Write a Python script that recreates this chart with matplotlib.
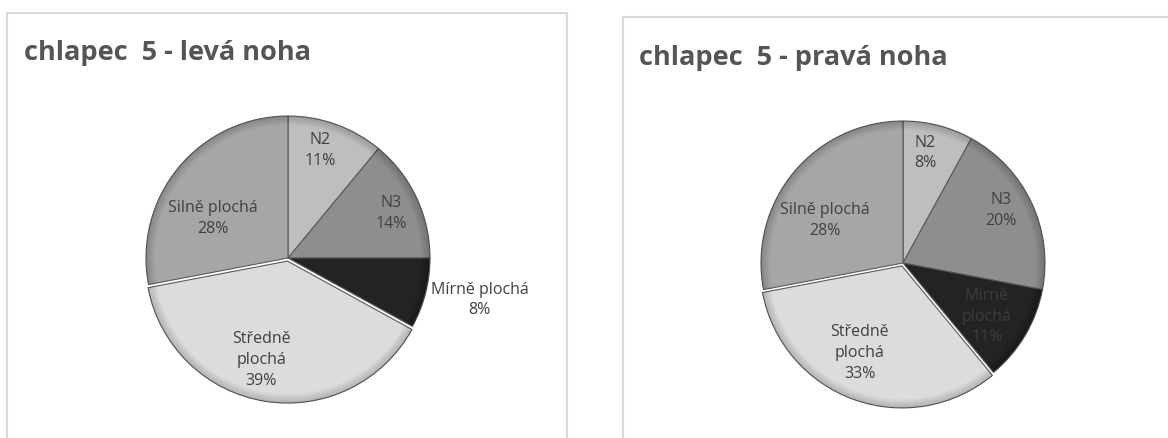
import numpy as np
import matplotlib
matplotlib.use("Agg")
import matplotlib.pyplot as plt
from matplotlib.patches import Rectangle

# Foot-arch categories, clockwise from 12 o'clock
categories = ["N2", "N3", "Mírně plochá", "Středně plochá", "Silně plochá"]
left_values = [11, 14, 8, 39, 28]
right_values = [8, 20, 11, 33, 28]
left_title = "chlapec  5 - levá noha"
right_title = "chlapec  5 - pravá noha"

# Label text, line-broken the way each chart shows it
left_labels = ["N2", "N3", "Mírně plochá", "Středně\nplochá", "Silně plochá"]
right_labels = ["N2", "N3", "Mírně\nplochá", "Středně\nplochá", "Silně plochá"]

slice_colors = ["#bebebe", "#8e8e8e", "#232323", "#dcdcdc", "#a6a6a6"]
label_colors_left = ["#404040", "#404040", "#404040", "#404040", "#404040"]
label_colors_right = ["#404040", "#404040", "#3c3c3c", "#404040", "#404040"]
explode = [0, 0, 0, 0.022, 0]

# label placement: radius (in pie radii) and angular nudge (degrees) per slice
left_label_r = [0.79, 0.79, 1.38, 0.72, 0.60]
left_label_nudge = [3, -2, 2, -6, 12]
right_label_r = [0.79, 0.78, 0.70, 0.68, 0.63]
right_label_nudge = [3, 3, -2, -6, 11]

W, H = 1168, 438
fig = plt.figure(figsize=(W / 100, H / 100), dpi=100)
fig.patch.set_facecolor("white")

FONT = "Open Sans"

# Panel frames
for (x0, y0, x1) in [(7, 13, 567), (623, 17, 1180)]:
    fig.patches.append(Rectangle((x0 / W, -0.05), (x1 - x0) / W, (H - y0) / H + 0.05,
                                 transform=fig.transFigure, fill=False,
                                 edgecolor="#d9d9d9", linewidth=1.5))

fig.text(24 / W, 1 - 53 / H, left_title, fontsize=19.5, fontweight="bold",
         color="#555555", family=FONT, va="center", ha="left")
fig.text(639 / W, 1 - 58 / H, right_title, fontsize=19.5, fontweight="bold",
         color="#555555", family=FONT, va="center", ha="left")


def draw_pie(cx, cy, values, labels, label_r, nudge, label_colors):
    R = 142.0
    size = 420.0
    ax = fig.add_axes([(cx - size / 2) / W, 1 - (cy + size / 2) / H, size / W, size / H])
    ax.axis("off")
    wedges, _ = ax.pie(values, colors=slice_colors, startangle=90, counterclock=False,
                       explode=explode, radius=1.0,
                       wedgeprops=dict(edgecolor="#5a5a5a", linewidth=0.8))
    # graded darkening toward the rim, suggesting a bevel
    for k in range(5):
        ax.pie(values, startangle=90, counterclock=False, explode=explode,
               radius=1.0 - 0.0005, colors=["black"] * len(values),
               wedgeprops=dict(width=0.012 * (k + 1), alpha=0.035, linewidth=0))
    L = size / 2 / R
    ax.set_xlim(-L, L)
    ax.set_ylim(-L, L)
    ax.set_aspect("equal")
    for w, lab, r, dn, val, col in zip(wedges, labels, label_r, nudge, values, label_colors):
        ang = np.deg2rad((w.theta1 + w.theta2) / 2 + dn)
        cxw, cyw = w.center
        x = cxw + r * np.cos(ang)
        y = cyw + r * np.sin(ang)
        ax.text(x, y, f"{lab}\n{val}%", ha="center", va="center", fontsize=11.5,
                color=col, family=FONT, linespacing=1.4, zorder=5)
    return ax


draw_pie(288, 258, left_values, left_labels, left_label_r, left_label_nudge, label_colors_left)
draw_pie(903, 263, right_values, right_labels, right_label_r, right_label_nudge, label_colors_right)

fig.savefig("out.png", dpi=100, facecolor="white")
